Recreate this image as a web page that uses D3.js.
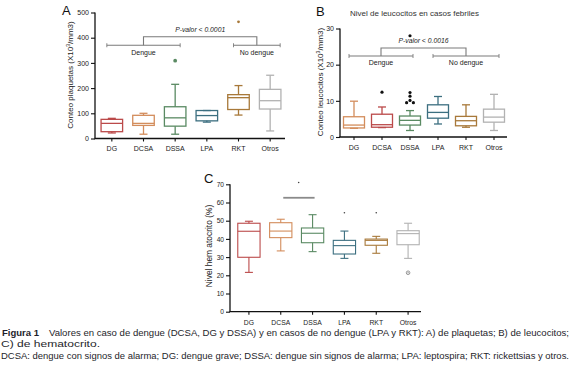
<!DOCTYPE html>
<html>
<head>
<meta charset="utf-8">
<script src="https://cdn.jsdelivr.net/npm/d3@7"></script>
<style>
  body { margin: 0; background: #fff; }
  svg { display: block; }
  text { font-family: "Liberation Sans", Arial, sans-serif; }
</style>
</head>
<body>
<svg id="fig" width="572" height="377"></svg>
<script>
const categories = ["DG", "DCSA", "DSSA", "LPA", "RKT", "Otros"];

// box stats per category: [min, q1, median, q3, max]
const plaquetas = [
  [22, 27, 60, 76, 80],
  [17, 52, 60, 92, 100],
  [17, 49, 82, 126, 215],
  [65, 70, 91, 111, 111],
  [93, 115, 162, 174, 210],
  [30, 117, 150, 195, 251]
];
const plaquetasOut = [["DSSA", 309], ["RKT", 463]];

const leucocitos = [
  [2.4, 2.5, 3.3, 5.6, 9.9],
  [2.6, 2.7, 3.4, 6.3, 8.3],
  [1.8, 3.3, 4.6, 5.8, 7.3],
  [3.6, 5.2, 6.8, 8.9, 11.2],
  [2.7, 3.1, 4.5, 5.7, 8.9],
  [1.8, 4.1, 5.5, 7.7, 11.8]
];
const leucocitosOut = [["DCSA", 12.4], ["DSSA", 28], ["DSSA", 12.3], ["DSSA", 11.3],
                       ["DSSA", 10.1], ["DSSA", 9.5], ["DSSA", 9.5]];

const hematocrito = [
  [21.6, 29.9, 44.2, 48.6, 49.7],
  [33.4, 40.7, 44.3, 48.9, 50.8],
  [33, 37.9, 43.1, 46, 53.3],
  [29.3, 31.7, 36.3, 39.2, 44.3],
  [32.1, 36.5, 39.2, 39.9, 41.4],
  [29.3, 36.8, 42.9, 44.5, 48.6]
];
const hematocritoOut = [["LPA", 54.4], ["RKT", 54.4], ["Otros", 21.4]];

const ticksA = [0, 100, 200, 300, 400, 500];
const ticksB = [0, 10, 20, 30];
const ticksC = [0, 10, 20, 30, 40, 50, 60, 70];

const colorsAC = ["#bb4a4a", "#d38d5c", "#5a8a63", "#3c6f80", "#a8793a", "#b2b2b2"];
const colorsB  = ["#d38d5c", "#bb4a4a", "#5a8a63", "#3c6f80", "#a8793a", "#b2b2b2"];

const svg = d3.select("#fig");

function drawPanel(cfg) {
  const g = svg.append("g");
  const x = d3.scaleBand().domain(categories).range(cfg.xRange);
  const y = d3.scaleLinear().domain([0, cfg.ticks[cfg.ticks.length - 1]]).range(cfg.yRange);
  const cx = c => x(c) + x.bandwidth() / 2;

  // axes
  const yAxis = g.append("g").attr("transform", `translate(${cfg.axisX},0)`)
    .call(d3.axisLeft(y).tickValues(cfg.ticks).tickSize(4).tickPadding(2).tickSizeOuter(0));
  const xAxis = g.append("g").attr("transform", `translate(0,${cfg.yRange[0]})`)
    .call(d3.axisBottom(x).tickSize(3).tickPadding(5).tickSizeOuter(0));
  xAxis.select(".domain").remove();
  yAxis.select(".domain").remove();
  g.append("line").attr("x1", cfg.axisX).attr("x2", cfg.axisX)
    .attr("y1", cfg.yRange[0]).attr("y2", cfg.yRange[1])
    .attr("stroke", "#111").attr("stroke-width", 1.3);
  g.append("line").attr("x1", cfg.axisX - 0.6).attr("x2", cfg.xEnd)
    .attr("y1", cfg.yRange[0]).attr("y2", cfg.yRange[0])
    .attr("stroke", "#111").attr("stroke-width", 1.3);
  g.selectAll(".tick line").attr("stroke", "#111").attr("stroke-width", 1.1);
  yAxis.selectAll("text").attr("font-size", cfg.tickFont).attr("fill", "#222");
  xAxis.selectAll("text").attr("font-size", cfg.xFont).attr("fill", "#222");

  // y title
  const yt = g.append("text")
    .attr("transform", `translate(${cfg.titleX},${cfg.titleY}) rotate(-90)`)
    .attr("text-anchor", "middle").attr("font-size", cfg.titleFont).attr("fill", "#222");
  cfg.yTitle.forEach(p => {
    const t = yt.append("tspan").text(p.t);
    if (p.sup) t.attr("baseline-shift", "super").attr("font-size", cfg.titleFont * 0.65);
  });

  // panel letter
  g.append("text").attr("x", cfg.letter[1]).attr("y", cfg.letter[2])
    .attr("font-size", 13).attr("fill", "#111").text(cfg.letter[0]);

  // boxes
  const bw = x.bandwidth() * cfg.boxRatio;
  const cap = 8;
  const boxes = g.selectAll(".box").data(cfg.stats).join("g").attr("class", "box")
    .attr("stroke", (d, i) => cfg.colors[i]).attr("stroke-width", cfg.lw).attr("fill", "none");
  boxes.append("rect")
    .attr("x", (d, i) => cx(categories[i]) - bw / 2).attr("width", bw)
    .attr("y", d => y(d[3])).attr("height", d => Math.max(0.5, y(d[1]) - y(d[3])));
  boxes.append("line")
    .attr("x1", (d, i) => cx(categories[i]) - bw / 2).attr("x2", (d, i) => cx(categories[i]) + bw / 2)
    .attr("y1", d => y(d[2])).attr("y2", d => y(d[2]));
  [[0, 1], [4, 3]].forEach(([a, b]) => {
    boxes.append("line")
      .attr("x1", (d, i) => cx(categories[i])).attr("x2", (d, i) => cx(categories[i]))
      .attr("y1", d => y(d[a])).attr("y2", d => y(d[b]));
    boxes.append("line")
      .attr("x1", (d, i) => cx(categories[i]) - cap / 2).attr("x2", (d, i) => cx(categories[i]) + cap / 2)
      .attr("y1", d => y(d[a])).attr("y2", d => y(d[a]));
  });

  // outliers, dodged sideways when they overlap
  const placed = [];
  const dd = cfg.dotR * 2 + 0.2;
  cfg.outliers.forEach(([c, v]) => {
    const py = y(v);
    let px = cx(c);
    const offs = [0, dd, -dd, 2 * dd, -2 * dd];
    for (const o of offs) {
      const ok = placed.every(p => Math.hypot(p[0] - (cx(c) + o), p[1] - py) >= dd);
      if (ok) { px = cx(c) + o; break; }
    }
    placed.push([px, py]);
    const i = categories.indexOf(c);
    const st = cfg.outStyle(i, v);
    g.append("circle").attr("cx", px).attr("cy", py).attr("r", st.r)
      .attr("fill", st.fill).attr("stroke", st.stroke || "none").attr("stroke-width", 0.9);
    if (st.inner) g.append("circle").attr("cx", px).attr("cy", py).attr("r", 0.6).attr("fill", st.inner);
  });

  if (cfg.extra) cfg.extra(g, x, y, cx);
}

function bracket(g, x, y, cx, b) {
  const gray = "#7a7a7a";
  const gy = y(b.groupLevel), ty = y(b.topLevel);
  const mids = [];
  b.groups.forEach(gr => {
    const x1 = cx(gr.from) - 5, x2 = cx(gr.to) + gr.extend;
    mids.push((x1 + x2) / 2);
    g.append("line").attr("x1", x1).attr("x2", x2).attr("y1", gy).attr("y2", gy)
      .attr("stroke", gray).attr("stroke-width", 1.1);
    [x1, x2].forEach(xx => g.append("line").attr("x1", xx).attr("x2", xx)
      .attr("y1", gy - 2).attr("y2", gy + 2).attr("stroke", gray).attr("stroke-width", 0.9));
    g.append("text").attr("x", (x1 + x2) / 2).attr("y", gy + 9.5).attr("text-anchor", "middle")
      .attr("font-size", 7).attr("fill", "#222").text(gr.label);
  });
  g.append("path")
    .attr("d", `M${mids[0]},${gy}V${ty}H${mids[1]}V${gy}`)
    .attr("fill", "none").attr("stroke", gray).attr("stroke-width", 1.1);
  g.append("text").attr("x", (mids[0] + mids[1]) / 2).attr("y", ty - 5).attr("text-anchor", "middle")
    .attr("font-size", 6.8).attr("font-style", "italic").attr("fill", "#222").text(b.pText);
}

// Panel A
drawPanel({
  stats: plaquetas, outliers: plaquetasOut, ticks: ticksA, colors: colorsAC,
  xRange: [96, 286], yRange: [138.5, 12.5], axisX: 95, xEnd: 285,
  boxRatio: 0.68, lw: 1.3, tickFont: 7, xFont: 7, dotR: 1.8,
  titleX: 73, titleY: 75, titleFont: 8,
  yTitle: [{ t: "Conteo plaquetas (X10" }, { t: "3", sup: true }, { t: "/mm3)" }],
  letter: ["A", 62, 15],
  outStyle: i => (i === 2 ? { r: 1.9, fill: colorsAC[2] } : { r: 1.4, fill: colorsAC[4] }),
  extra: (g, x, y, cx) => bracket(g, x, y, cx, {
    groupLevel: 370, topLevel: 404, pText: "P-valor < 0.0001",
    groups: [{ from: "DG", to: "DSSA", extend: 5, label: "Dengue" },
             { from: "RKT", to: "Otros", extend: 10, label: "No dengue" }]
  })
});

// Panel B
drawPanel({
  stats: leucocitos, outliers: leucocitosOut, ticks: ticksB, colors: colorsB,
  xRange: [340, 508], yRange: [137, 28.5], axisX: 340, xEnd: 507,
  boxRatio: 0.75, lw: 1.3, tickFont: 7, xFont: 7, dotR: 1.6,
  titleX: 323, titleY: 82, titleFont: 8,
  yTitle: [{ t: "Conteo leucocitos (X10" }, { t: "3", sup: true }, { t: "/mm3)" }],
  letter: ["B", 316, 16],
  outStyle: () => ({ r: 1.6, fill: "#111" }),
  extra: (g, x, y, cx) => {
    bracket(g, x, y, cx, {
      groupLevel: 22.4, topLevel: 24.6, pText: "P-valor < 0.0016",
      groups: [{ from: "DG", to: "DSSA", extend: 3, label: "Dengue" },
               { from: "LPA", to: "Otros", extend: 5, label: "No dengue" }]
    });
    svg.append("text").attr("x", 350).attr("y", 15.5).attr("font-size", 8)
      .attr("fill", "#333").text("Nivel de leucocitos en casos febriles");
  }
});

// Panel C
drawPanel({
  stats: hematocrito, outliers: hematocritoOut, ticks: ticksC, colors: colorsAC,
  xRange: [233, 424], yRange: [311.7, 184.3], axisX: 230, xEnd: 421,
  boxRatio: 0.7, lw: 1.1, tickFont: 6.6, xFont: 6.8, dotR: 1.2,
  titleX: 212, titleY: 246, titleFont: 8.4,
  yTitle: [{ t: "Nivel hem atocrito (%)" }],
  letter: ["C", 204, 182.5],
  outStyle: i => (i === 5 ? { r: 1.8, fill: "none", stroke: "#8a8a8a", inner: "#555" } : { r: 0.8, fill: "#444" }),
  extra: (g, x, y, cx) => {
    g.append("line").attr("x1", cx("DCSA") + 2.5).attr("x2", cx("DSSA") + 2)
      .attr("y1", y(62.6)).attr("y2", y(62.6)).attr("stroke", "#8a8a8a").attr("stroke-width", 1.8);
    g.append("circle").attr("cx", (cx("DCSA") + cx("DSSA")) / 2 + 2).attr("cy", y(71))
      .attr("r", 0.8).attr("fill", "#444");
  }
});

// caption
const cap = svg.append("g").attr("fill", "#1e1e2a").attr("font-size", 8.6)
  .style("font-family", "'DejaVu Sans Condensed', 'DejaVu Sans', sans-serif");
cap.append("text").attr("x", 2).attr("y", 336).attr("font-weight", "bold")
  .attr("textLength", 37).attr("lengthAdjust", "spacingAndGlyphs").text("Figura 1");
cap.append("text").attr("x", 49).attr("y", 336).attr("textLength", 520).attr("lengthAdjust", "spacingAndGlyphs")
  .text("Valores en caso de dengue (DCSA, DG y DSSA) y en casos de no dengue (LPA y RKT): A) de plaquetas; B) de leucocitos;");
cap.append("text").attr("x", 1).attr("y", 347).attr("textLength", 99).attr("lengthAdjust", "spacingAndGlyphs")
  .text("C) de hematocrito.");
cap.append("text").attr("x", 1).attr("y", 358.5).attr("textLength", 568).attr("lengthAdjust", "spacingAndGlyphs")
  .text("DCSA: dengue con signos de alarma; DG: dengue grave; DSSA: dengue sin signos de alarma; LPA: leptospira; RKT: rickettsias y otros.");
</script>
</body>
</html>
